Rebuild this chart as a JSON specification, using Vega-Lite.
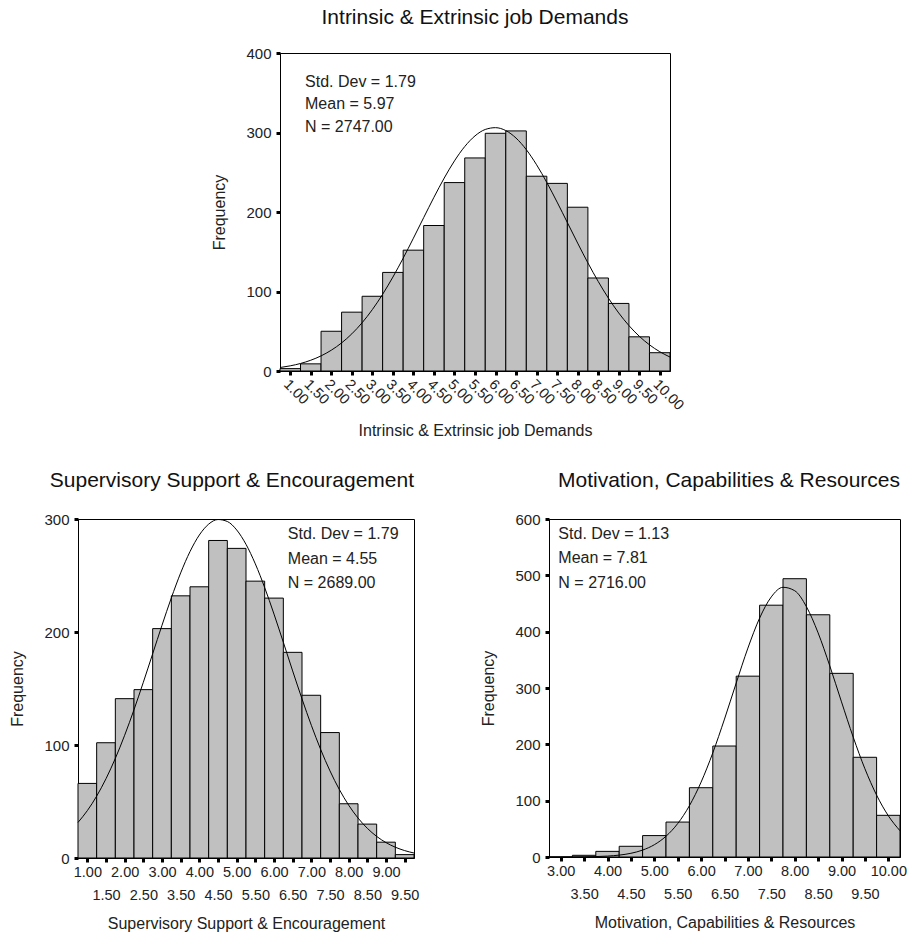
{
  "$schema": "https://vega.github.io/schema/vega-lite/v6.json",
  "padding": {"left": 9, "top": 6, "right": 0, "bottom": 2},
  "background": "white",
  "datasets": {
    "ied_bars": [
      {"lo": 0.75, "hi": 1.25, "count": 3},
      {"lo": 1.25, "hi": 1.75, "count": 9},
      {"lo": 1.75, "hi": 2.25, "count": 50},
      {"lo": 2.25, "hi": 2.75, "count": 74},
      {"lo": 2.75, "hi": 3.25, "count": 94},
      {"lo": 3.25, "hi": 3.75, "count": 124},
      {"lo": 3.75, "hi": 4.25, "count": 152},
      {"lo": 4.25, "hi": 4.75, "count": 183},
      {"lo": 4.75, "hi": 5.25, "count": 237},
      {"lo": 5.25, "hi": 5.75, "count": 268},
      {"lo": 5.75, "hi": 6.25, "count": 299},
      {"lo": 6.25, "hi": 6.75, "count": 302},
      {"lo": 6.75, "hi": 7.25, "count": 245},
      {"lo": 7.25, "hi": 7.75, "count": 236},
      {"lo": 7.75, "hi": 8.25, "count": 206},
      {"lo": 8.25, "hi": 8.75, "count": 117},
      {"lo": 8.75, "hi": 9.25, "count": 85},
      {"lo": 9.25, "hi": 9.75, "count": 43},
      {"lo": 9.75, "hi": 10.25, "count": 23}
    ],
    "ied_curve": [
      {"x": 0.75, "y": 4.36}, {"x": 1.0, "y": 6.49}, {"x": 1.25, "y": 9.47}, {"x": 1.5, "y": 13.55},
      {"x": 1.75, "y": 19.01}, {"x": 2.0, "y": 26.17}, {"x": 2.25, "y": 35.32}, {"x": 2.5, "y": 46.75},
      {"x": 2.75, "y": 60.69}, {"x": 3.0, "y": 77.29}, {"x": 3.25, "y": 96.49}, {"x": 3.5, "y": 118.15},
      {"x": 3.75, "y": 141.87}, {"x": 4.0, "y": 167.06}, {"x": 4.25, "y": 192.93}, {"x": 4.5, "y": 218.51},
      {"x": 4.75, "y": 242.67}, {"x": 5.0, "y": 264.32}, {"x": 5.25, "y": 282.33}, {"x": 5.5, "y": 295.75},
      {"x": 5.75, "y": 303.82}, {"x": 6.0, "y": 306.08}, {"x": 6.25, "y": 302.4}, {"x": 6.5, "y": 292.99},
      {"x": 6.75, "y": 278.4}, {"x": 7.0, "y": 259.41}, {"x": 7.25, "y": 237.06}, {"x": 7.5, "y": 212.45},
      {"x": 7.75, "y": 186.71}, {"x": 8.0, "y": 160.91}, {"x": 8.25, "y": 136.02}, {"x": 8.5, "y": 112.74},
      {"x": 8.75, "y": 91.65}, {"x": 9.0, "y": 73.06}, {"x": 9.25, "y": 57.12}, {"x": 9.5, "y": 43.79},
      {"x": 9.75, "y": 32.93}, {"x": 10.0, "y": 24.28}, {"x": 10.25, "y": 17.55}
    ],
    "sse_bars": [
      {"lo": 0.75, "hi": 1.25, "count": 66},
      {"lo": 1.25, "hi": 1.75, "count": 102},
      {"lo": 1.75, "hi": 2.25, "count": 141},
      {"lo": 2.25, "hi": 2.75, "count": 149},
      {"lo": 2.75, "hi": 3.25, "count": 203},
      {"lo": 3.25, "hi": 3.75, "count": 232},
      {"lo": 3.75, "hi": 4.25, "count": 240},
      {"lo": 4.25, "hi": 4.75, "count": 281},
      {"lo": 4.75, "hi": 5.25, "count": 274},
      {"lo": 5.25, "hi": 5.75, "count": 245},
      {"lo": 5.75, "hi": 6.25, "count": 230},
      {"lo": 6.25, "hi": 6.75, "count": 182},
      {"lo": 6.75, "hi": 7.25, "count": 144},
      {"lo": 7.25, "hi": 7.75, "count": 111},
      {"lo": 7.75, "hi": 8.25, "count": 48},
      {"lo": 8.25, "hi": 8.75, "count": 30},
      {"lo": 8.75, "hi": 9.25, "count": 14},
      {"lo": 9.25, "hi": 9.75, "count": 3}
    ],
    "sse_curve": [
      {"x": 0.75, "y": 31.47}, {"x": 1.0, "y": 41.92}, {"x": 1.25, "y": 54.77}, {"x": 1.5, "y": 70.17},
      {"x": 1.75, "y": 88.16}, {"x": 2.0, "y": 108.63}, {"x": 2.25, "y": 131.25}, {"x": 2.5, "y": 155.53},
      {"x": 2.75, "y": 180.74}, {"x": 3.0, "y": 205.97}, {"x": 3.25, "y": 230.19}, {"x": 3.5, "y": 252.3},
      {"x": 3.75, "y": 271.17}, {"x": 4.0, "y": 285.83}, {"x": 4.25, "y": 295.47}, {"x": 4.5, "y": 299.53},
      {"x": 4.75, "y": 297.79}, {"x": 5.0, "y": 290.33}, {"x": 5.25, "y": 277.59}, {"x": 5.5, "y": 260.28},
      {"x": 5.75, "y": 239.35}, {"x": 6.0, "y": 215.84}, {"x": 6.25, "y": 190.89}, {"x": 6.5, "y": 165.54},
      {"x": 6.75, "y": 140.8}, {"x": 7.0, "y": 117.44}, {"x": 7.25, "y": 96.06}, {"x": 7.5, "y": 77.06},
      {"x": 7.75, "y": 60.62}, {"x": 8.0, "y": 46.76}, {"x": 8.25, "y": 35.39}, {"x": 8.5, "y": 26.26},
      {"x": 8.75, "y": 19.11}, {"x": 9.0, "y": 13.63}, {"x": 9.25, "y": 9.54}, {"x": 9.5, "y": 6.55},
      {"x": 9.75, "y": 4.41}
    ],
    "mcr_bars": [
      {"lo": 2.75, "hi": 3.25, "count": 0},
      {"lo": 3.25, "hi": 3.75, "count": 3},
      {"lo": 3.75, "hi": 4.25, "count": 10},
      {"lo": 4.25, "hi": 4.75, "count": 19},
      {"lo": 4.75, "hi": 5.25, "count": 38},
      {"lo": 5.25, "hi": 5.75, "count": 62},
      {"lo": 5.75, "hi": 6.25, "count": 123},
      {"lo": 6.25, "hi": 6.75, "count": 197},
      {"lo": 6.75, "hi": 7.25, "count": 321},
      {"lo": 7.25, "hi": 7.75, "count": 447},
      {"lo": 7.75, "hi": 8.25, "count": 494},
      {"lo": 8.25, "hi": 8.75, "count": 430},
      {"lo": 8.75, "hi": 9.25, "count": 326},
      {"lo": 9.25, "hi": 9.75, "count": 177},
      {"lo": 9.75, "hi": 10.25, "count": 74}
    ],
    "mcr_curve": [
      {"x": 2.75, "y": 0.02}, {"x": 3.0, "y": 0.06}, {"x": 3.25, "y": 0.14}, {"x": 3.5, "y": 0.33},
      {"x": 3.75, "y": 0.75}, {"x": 4.0, "y": 1.63}, {"x": 4.25, "y": 3.35}, {"x": 4.5, "y": 6.57},
      {"x": 4.75, "y": 12.25}, {"x": 5.0, "y": 21.77}, {"x": 5.25, "y": 36.83}, {"x": 5.5, "y": 59.33},
      {"x": 5.75, "y": 91.0}, {"x": 6.0, "y": 132.93}, {"x": 6.25, "y": 184.88}, {"x": 6.5, "y": 244.84},
      {"x": 6.75, "y": 308.78}, {"x": 7.0, "y": 370.83}, {"x": 7.25, "y": 424.04}, {"x": 7.5, "y": 461.73},
      {"x": 7.75, "y": 478.76}, {"x": 8.0, "y": 472.71}, {"x": 8.25, "y": 444.44}, {"x": 8.5, "y": 397.9},
      {"x": 8.75, "y": 339.21}, {"x": 9.0, "y": 275.37}, {"x": 9.25, "y": 212.87}, {"x": 9.5, "y": 156.69},
      {"x": 9.75, "y": 109.83}, {"x": 10.0, "y": 73.3}, {"x": 10.25, "y": 46.58}
    ]
  },
  "vconcat": [
    {
      "hconcat": [
        {
          "width": 133,
          "height": 10,
          "data": {"values": []},
          "mark": "point",
          "view": {"stroke": null}
        },
        {
          "width": 390,
          "height": 318,
          "title": {"text": "Intrinsic & Extrinsic job Demands", "anchor": "middle", "frame": "group", "offset": 18},
          "layer": [
            {
              "data": {"name": "ied_bars"},
              "mark": {"type": "rect", "fill": "#c0c0c0", "stroke": "black", "strokeWidth": 1},
              "encoding": {
                "x": {"field": "lo", "type": "quantitative", "scale": {"domain": [0.75, 10.25], "nice": false, "zero": false},
                      "axis": {"title": "Intrinsic & Extrinsic job Demands", "values": [1, 1.5, 2, 2.5, 3, 3.5, 4, 4.5, 5, 5.5, 6, 6.5, 7, 7.5, 8, 8.5, 9, 9.5, 10],
                               "format": ".2f", "labelAngle": 45, "labelAlign": "left", "labelBaseline": "top", "labelPadding": 2, "titlePadding": 10, "labelOverlap": false}},
                "x2": {"field": "hi"},
                "y": {"field": "count", "type": "quantitative", "scale": {"domain": [0, 400], "nice": false},
                      "axis": {"title": "Frequency", "values": [0, 100, 200, 300, 400], "labelOverlap": false}},
                "y2": {"datum": 0}
              }
            },
            {
              "data": {"name": "ied_curve"},
              "mark": {"type": "line", "interpolate": "monotone", "stroke": "black", "strokeWidth": 1},
              "encoding": {
                "x": {"field": "x", "type": "quantitative", "scale": {"domain": [0.75, 10.25], "nice": false, "zero": false},
                      "axis": {"title": "Intrinsic & Extrinsic job Demands", "values": [1, 1.5, 2, 2.5, 3, 3.5, 4, 4.5, 5, 5.5, 6, 6.5, 7, 7.5, 8, 8.5, 9, 9.5, 10],
                               "format": ".2f", "labelAngle": 45, "labelAlign": "left", "labelBaseline": "top", "labelPadding": 2, "titlePadding": 10, "labelOverlap": false}},
                "y": {"field": "y", "type": "quantitative", "scale": {"domain": [0, 400], "nice": false},
                      "axis": {"title": "Frequency", "values": [0, 100, 200, 300, 400], "labelOverlap": false}}
              }
            },
            {
              "data": {"values": [{}]},
              "mark": {"type": "text", "align": "left", "baseline": "alphabetic", "fontSize": 16, "lineHeight": 22.5, "color": "#222"},
              "encoding": {
                "x": {"datum": 1.36, "type": "quantitative", "scale": {"domain": [0.75, 10.25], "nice": false, "zero": false},
                      "axis": {"title": "Intrinsic & Extrinsic job Demands", "values": [1, 1.5, 2, 2.5, 3, 3.5, 4, 4.5, 5, 5.5, 6, 6.5, 7, 7.5, 8, 8.5, 9, 9.5, 10],
                               "format": ".2f", "labelAngle": 45, "labelAlign": "left", "labelBaseline": "top", "labelPadding": 2, "titlePadding": 10, "labelOverlap": false}},
                "y": {"datum": 357.6, "type": "quantitative", "scale": {"domain": [0, 400], "nice": false},
                      "axis": {"title": "Frequency", "values": [0, 100, 200, 300, 400], "labelOverlap": false}},
                "text": {"value": ["Std. Dev = 1.79", "Mean = 5.97", "N = 2747.00"]}
              }
            }
          ]
        }
      ],
      "spacing": 0
    },
    {
      "hconcat": [
        {
          "width": 336,
          "height": 339,
          "title": {"text": "Supervisory Support & Encouragement", "anchor": "end", "frame": "group", "offset": 21},
          "layer": [
            {
              "data": {"name": "sse_bars"},
              "mark": {"type": "rect", "fill": "#c0c0c0", "stroke": "black", "strokeWidth": 1},
              "encoding": {
                "x": {"field": "lo", "type": "quantitative", "scale": {"domain": [0.75, 9.75], "nice": false, "zero": false},
                      "axis": {"title": "Supervisory Support & Encouragement", "values": [1, 1.5, 2, 2.5, 3, 3.5, 4, 4.5, 5, 5.5, 6, 6.5, 7, 7.5, 8, 8.5, 9, 9.5],
                               "format": ".2f", "labelExpr": "round(datum.value * 2) % 2 == 1 ? ['', datum.label] : datum.label",
                               "labelLineHeight": 23, "labelPadding": 3, "titlePadding": 14, "labelOverlap": false}},
                "x2": {"field": "hi"},
                "y": {"field": "count", "type": "quantitative", "scale": {"domain": [0, 300], "nice": false},
                      "axis": {"title": "Frequency", "values": [0, 100, 200, 300], "labelOverlap": false}},
                "y2": {"datum": 0}
              }
            },
            {
              "data": {"name": "sse_curve"},
              "mark": {"type": "line", "interpolate": "monotone", "stroke": "black", "strokeWidth": 1},
              "encoding": {
                "x": {"field": "x", "type": "quantitative", "scale": {"domain": [0.75, 9.75], "nice": false, "zero": false},
                      "axis": {"title": "Supervisory Support & Encouragement", "values": [1, 1.5, 2, 2.5, 3, 3.5, 4, 4.5, 5, 5.5, 6, 6.5, 7, 7.5, 8, 8.5, 9, 9.5],
                               "format": ".2f", "labelExpr": "round(datum.value * 2) % 2 == 1 ? ['', datum.label] : datum.label",
                               "labelLineHeight": 23, "labelPadding": 3, "titlePadding": 14, "labelOverlap": false}},
                "y": {"field": "y", "type": "quantitative", "scale": {"domain": [0, 300], "nice": false},
                      "axis": {"title": "Frequency", "values": [0, 100, 200, 300], "labelOverlap": false}}
              }
            },
            {
              "data": {"values": [{}]},
              "mark": {"type": "text", "align": "left", "baseline": "alphabetic", "fontSize": 16, "lineHeight": 24.5, "color": "#222"},
              "encoding": {
                "x": {"datum": 6.37, "type": "quantitative", "scale": {"domain": [0.75, 9.75], "nice": false, "zero": false},
                      "axis": {"title": "Supervisory Support & Encouragement", "values": [1, 1.5, 2, 2.5, 3, 3.5, 4, 4.5, 5, 5.5, 6, 6.5, 7, 7.5, 8, 8.5, 9, 9.5],
                               "format": ".2f", "labelExpr": "round(datum.value * 2) % 2 == 1 ? ['', datum.label] : datum.label",
                               "labelLineHeight": 23, "labelPadding": 3, "titlePadding": 14, "labelOverlap": false}},
                "y": {"datum": 282, "type": "quantitative", "scale": {"domain": [0, 300], "nice": false},
                      "axis": {"title": "Frequency", "values": [0, 100, 200, 300], "labelOverlap": false}},
                "text": {"value": ["Std. Dev = 1.79", "Mean = 4.55", "N = 2689.00"]}
              }
            }
          ]
        },
        {
          "width": 351,
          "height": 338,
          "title": {"text": "Motivation, Capabilities & Resources", "anchor": "end", "frame": "group", "offset": 21},
          "layer": [
            {
              "data": {"name": "mcr_bars"},
              "mark": {"type": "rect", "fill": "#c0c0c0", "stroke": "black", "strokeWidth": 1},
              "encoding": {
                "x": {"field": "lo", "type": "quantitative", "scale": {"domain": [2.75, 10.25], "nice": false, "zero": false},
                      "axis": {"title": "Motivation, Capabilities & Resources", "values": [3, 3.5, 4, 4.5, 5, 5.5, 6, 6.5, 7, 7.5, 8, 8.5, 9, 9.5, 10],
                               "format": ".2f", "labelExpr": "round(datum.value * 2) % 2 == 1 ? ['', datum.label] : datum.label",
                               "labelLineHeight": 23, "labelPadding": 3, "titlePadding": 14, "labelOverlap": false}},
                "x2": {"field": "hi"},
                "y": {"field": "count", "type": "quantitative", "scale": {"domain": [0, 600], "nice": false},
                      "axis": {"title": "Frequency", "values": [0, 100, 200, 300, 400, 500, 600], "labelOverlap": false}},
                "y2": {"datum": 0}
              }
            },
            {
              "data": {"name": "mcr_curve"},
              "mark": {"type": "line", "interpolate": "monotone", "stroke": "black", "strokeWidth": 1},
              "encoding": {
                "x": {"field": "x", "type": "quantitative", "scale": {"domain": [2.75, 10.25], "nice": false, "zero": false},
                      "axis": {"title": "Motivation, Capabilities & Resources", "values": [3, 3.5, 4, 4.5, 5, 5.5, 6, 6.5, 7, 7.5, 8, 8.5, 9, 9.5, 10],
                               "format": ".2f", "labelExpr": "round(datum.value * 2) % 2 == 1 ? ['', datum.label] : datum.label",
                               "labelLineHeight": 23, "labelPadding": 3, "titlePadding": 14, "labelOverlap": false}},
                "y": {"field": "y", "type": "quantitative", "scale": {"domain": [0, 600], "nice": false},
                      "axis": {"title": "Frequency", "values": [0, 100, 200, 300, 400, 500, 600], "labelOverlap": false}}
              }
            },
            {
              "data": {"values": [{}]},
              "mark": {"type": "text", "align": "left", "baseline": "alphabetic", "fontSize": 16, "lineHeight": 24.5, "color": "#222"},
              "encoding": {
                "x": {"datum": 2.95, "type": "quantitative", "scale": {"domain": [2.75, 10.25], "nice": false, "zero": false},
                      "axis": {"title": "Motivation, Capabilities & Resources", "values": [3, 3.5, 4, 4.5, 5, 5.5, 6, 6.5, 7, 7.5, 8, 8.5, 9, 9.5, 10],
                               "format": ".2f", "labelExpr": "round(datum.value * 2) % 2 == 1 ? ['', datum.label] : datum.label",
                               "labelLineHeight": 23, "labelPadding": 3, "titlePadding": 14, "labelOverlap": false}},
                "y": {"datum": 564.5, "type": "quantitative", "scale": {"domain": [0, 600], "nice": false},
                      "axis": {"title": "Frequency", "values": [0, 100, 200, 300, 400, 500, 600], "labelOverlap": false}},
                "text": {"value": ["Std. Dev = 1.13", "Mean = 7.81", "N = 2716.00"]}
              }
            }
          ]
        }
      ],
      "spacing": 60
    }
  ],
  "spacing": 30,
  "config": {
    "font": "Liberation Sans",
    "view": {"stroke": "black", "strokeWidth": 1},
    "axis": {
      "grid": false,
      "domainColor": "black",
      "domainWidth": 1,
      "tickColor": "black",
      "tickSize": 4,
      "tickWidth": 3,
      "labelColor": "#222",
      "titleColor": "#222",
      "labelFont": "Liberation Sans",
      "titleFont": "Liberation Sans",
      "labelFontSize": 15,
      "titleFontSize": 16,
      "titleFontWeight": "normal",
      "labelOverlap": false,
      "labelFlush": false,
      "labelPadding": 5
    },
    "axisX": {"labelFontSize": 14.5},
    "axisY": {"titlePadding": 18},
    "title": {"font": "Liberation Sans", "fontSize": 21, "fontWeight": "normal", "color": "#111"}
  }
}
